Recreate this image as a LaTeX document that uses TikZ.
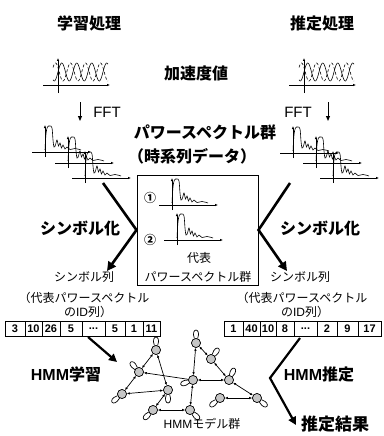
\documentclass[tikz,border=0pt]{standalone}
\usepackage{fontspec}
\setmainfont{Noto Sans CJK JP}
\newfontfamily\lat{Liberation Sans}
\usetikzlibrary{arrows.meta}
\newcommand\mydots{...}
\tikzset{
  axis/.style={line width=0.7pt,-{Latex[length=3pt,width=2.4pt]}},
  wave/.style={line width=0.6pt},
  accel/.pic={
    \draw[axis] (-15,0) -- (52,0);
    \draw[axis] (0,8) -- (0,-27);
    \draw[wave] plot[domain=-5:50,samples=90,smooth] (\x,{-13-9*sin(24*\x)});
    \draw[wave,densely dashed] plot[domain=-5:50,samples=90,smooth] (\x,{-13-9*sin(24*\x+150)});
  },
  spec/.pic={
    \draw[axis] (-13,0) -- (46,0);
    \draw[axis] (0,5) -- (0,-27);
    \draw[wave] plot[smooth, tension=0.6] coordinates {(0,-2) (1,-18) (2.5,-25) (5,-26) (7,-24) (8,-12) (9,-5) (10.5,-7) (12,-12) (13.5,-6) (15,-9) (16.5,-4) (18,-7) (20,-3) (22,-5) (25,-2.5) (30,-3.5) (36,-2)};
  },
}
\begin{document}
\begin{tikzpicture}[x=1pt,y=-1pt,
  lbl/.style={font=\bfseries\fontsize{16}{16}\selectfont, inner sep=0pt},
  sml/.style={font=\fontsize{12}{12}\selectfont, inner sep=0pt},
  bigarrow/.style={line width=2.6pt,-{Triangle[length=9pt,width=9pt]}},
  midarrow/.style={line width=2.2pt,-{Triangle[length=8pt,width=8pt]}},
  fftarrow/.style={line width=1pt,-{Triangle[length=5pt,width=4pt]}},
  cell/.style={draw, line width=0.8pt, minimum height=15pt, inner sep=0pt, font=\lat\bfseries\fontsize{11}{11}\selectfont},
  st/.style={circle, draw, line width=0.6pt, fill=gray!45, minimum size=9pt, inner sep=0pt},
  tr/.style={line width=0.7pt, {Latex[length=3pt,width=2.5pt]}-{Latex[length=3pt,width=2.5pt]}},
  sl/.style={line width=0.7pt},
]
\useasboundingbox (0,0) rectangle (383,436);

% titles
\node[lbl] (t1) at (89,23) {学習処理};
\node[lbl] (t2) at (322,23) {推定処理};
\node[lbl] (acc) at (196,73) {加速度値};

% acceleration waveforms
\pic at (58,85) {accel};
\pic at (304,85) {accel};

% FFT arrows
\coordinate (fa1) at (80,102); \coordinate (fa2) at (80,121);
\draw[fftarrow] (fa1) -- (fa2);
\node[font=\lat\fontsize{15}{15}\selectfont, inner sep=0pt] (fft1) at (107,112) {FFT};
\coordinate (fb1) at (328,102); \coordinate (fb2) at (328,121);
\draw[fftarrow] (fb1) -- (fb2);
\node[font=\lat\fontsize{15}{15}\selectfont, inner sep=0pt] (fft2) at (298,112) {FFT};

\node[lbl] (ps) at (205,132) {パワースペクトル群};
\node[lbl] (ts) at (192,156) {（時系列データ）};

% spectra stacks
\pic at (45,152) {spec};
\pic at (68,163) {spec};
\pic at (85,178) {spec};
\pic at (293,153) {spec};
\pic at (316,163) {spec};
\pic at (333,178) {spec};

% representative box
\node[draw, line width=1pt, minimum width=121pt, minimum height=110pt, inner sep=0pt] (box) at (197.5,230) {};
\node[font=\bfseries\fontsize{12}{12}\selectfont, inner sep=0pt] (c1) at (150,198) {①};
\node[font=\bfseries\fontsize{12}{12}\selectfont, inner sep=0pt] (c2) at (150,240) {②};
\pic at (172,205) {spec};
\pic at (177,240) {spec};
\node[sml] (rep1) at (199,258) {代表};
\node[sml] (rep2) at (198,277) {パワースペクトル群};

% symbolisation arrows
\coordinate (lv1) at (103,183); \coordinate (lv3) at (107,271);
\draw[bigarrow] (lv1) -- (box.west) -- (lv3);
\coordinate (rv1) at (290,183); \coordinate (rv3) at (287,271);
\draw[bigarrow] (rv1) -- (box.east) -- (rv3);
\node[lbl] (sy1) at (80,228) {シンボル化};
\node[lbl] (sy2) at (320,228) {シンボル化};

\node[sml] (sr1) at (84,277) {シンボル列};
\node[sml] (sr2) at (300,277) {シンボル列};
\node[sml] (id1) at (84,298) {（代表パワースペクトル};
\node[sml] (id2) at (302,298) {（代表パワースペクトル};
\node[sml] (id3) at (88,312) {の{\lat ID}列）};
\node[sml] (id4) at (305,312) {の{\lat ID}列）};

% symbol rows
\foreach \a/\b/\t [count=\i] in {5/25/3, 25/42/10, 42/60/26, 60/82/5, 82/105/\mydots, 105/125/5, 125/143/1, 143/160/11}
  \node[cell, minimum width={(\b-\a)*1pt}] (L\i) at ({(\a+\b)/2},328.5) {\t};
\foreach \a/\b/\t [count=\i] in {224/243/1, 243/260/40, 260/276/10, 276/294/8, 294/317/\mydots, 317/337/2, 337/358/9, 358/381/17}
  \node[cell, minimum width={(\b-\a)*1pt}] (R\i) at ({(\a+\b)/2},328.5) {\t};

% HMM learning / estimation arrows
\coordinate (hl1) at (88,337); \coordinate (hl2) at (117,362);
\draw[midarrow] (hl1) -- (hl2);
\coordinate (hr1) at (300,338); \coordinate (hr2) at (270,378); \coordinate (hr3) at (296,425);
\draw[midarrow] (hr1) -- (hr2) -- (hr3);
\node[lbl] (hm1) at (66,374) {{\lat HMM}学習};
\node[lbl] (hm2) at (319,374) {{\lat HMM}推定};
\node[font=\bfseries\fontsize{17}{17}\selectfont, inner sep=0pt] (res) at (335,424) {推定結果};
\node[sml] (mg) at (202,424) {{\lat HMM}モデル群};

% HMM network
\foreach \n/\x/\y in {h1/156/350, h2/196/343, h3/211/359, h4/139/372, h5/168/390, h6/193/380,
                      h7/229/380, h8/122/394, h9/220/398, h10/257/398, h11/153/410, h12/190/410}
  \node[st] (\n) at (\x,\y) {};
\foreach \n/\a in {h1/90, h2/90, h3/55, h4/130, h5/270, h6/200, h7/65, h8/220, h9/220, h10/320, h11/225, h12/315} {
  \pgfmathtruncatemacro\ao{\a+20}
  \pgfmathtruncatemacro\ai{\a-20}
  \draw[sl] (\n) to[out=\ao,in=\ai,distance=12pt] (\n);
}
\foreach \p/\q in {h1/h4, h4/h8, h8/h5, h1/h5, h5/h11, h11/h12, h2/h6, h2/h3, h3/h7, h6/h7, h7/h10, h9/h10, h6/h12}
  \draw[tr] (\p) -- (\q);
\draw[sl,-{Latex[length=3pt,width=2.5pt]}] (h6) -- (h4);
\foreach \n in {h1,h2,h3,h4,h5,h6,h7,h8,h9,h10,h11,h12}
  \node[st] at (\n) {};
\end{tikzpicture}
\end{document}
